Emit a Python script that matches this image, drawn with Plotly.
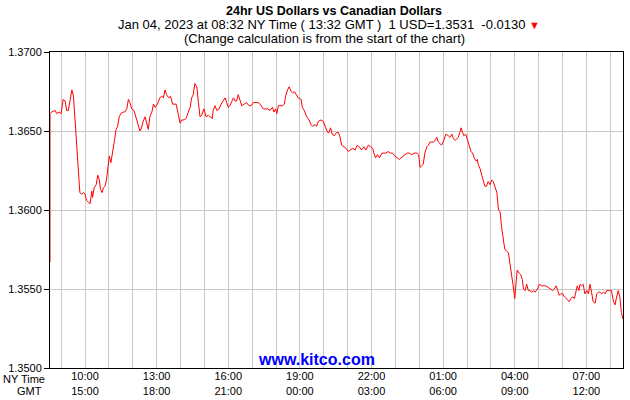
import pandas as pd
import plotly.graph_objects as go

# ---- data: minutes after the chart start (Jan 03, 2023 08:32 NY) and USD/CAD rate ----
start_time = "2023-01-03 08:32"

minutes_a = [0, 0, 4, 13, 17, 23, 28, 33, 38, 42,
             46, 50, 55, 59, 63, 67, 71, 75, 80, 84,
             88, 92, 96, 101, 105, 107, 111, 116, 120, 124,
             127, 131, 134, 138, 142, 147, 149, 153, 158, 162,
             166, 170, 174, 178, 184, 188, 193, 197, 201, 205,
             211, 216, 220, 226, 230, 234, 239, 243, 247, 251,
             256, 260, 264, 270, 276, 281, 285, 289, 293, 298,
             303, 308, 312, 317, 322, 327, 331, 337, 342, 348,
             352, 356, 360, 364, 369, 373]
values_a = [1.3567, 1.3661, 1.3662, 1.3663, 1.3661, 1.3662, 1.3661, 1.3670, 1.3669, 1.3663,
            1.3663, 1.3670, 1.3676, 1.3672, 1.3657, 1.3640, 1.3623, 1.3611, 1.3610, 1.3611,
            1.3610, 1.3606, 1.3605, 1.3604, 1.3612, 1.3608, 1.3614, 1.3616, 1.3622, 1.3619,
            1.3613, 1.3611, 1.3614, 1.3615, 1.3619, 1.3630, 1.3634, 1.3630, 1.3637, 1.3644,
            1.3651, 1.3653, 1.3659, 1.3661, 1.3662, 1.3662, 1.3664, 1.3670, 1.3668, 1.3664,
            1.3663, 1.3659, 1.3655, 1.3650, 1.3652, 1.3656, 1.3659, 1.3655, 1.3651, 1.3659,
            1.3662, 1.3667, 1.3665, 1.3667, 1.3671, 1.3672, 1.3671, 1.3676, 1.3673, 1.3671,
            1.3672, 1.3667, 1.3667, 1.3667, 1.3661, 1.3655, 1.3657, 1.3657, 1.3658, 1.3662,
            1.3665, 1.3671, 1.3673, 1.3680, 1.3678, 1.3668]

minutes_b = [377, 381, 387, 392, 398, 402, 408, 410, 415, 419,
             425, 430, 436, 440, 444, 448, 452, 457, 461, 465,
             469, 473, 477, 482, 488, 494, 500, 505, 511, 518,
             523, 528, 532, 536, 542, 547, 553, 559, 563, 567,
             570, 574, 578, 584, 589, 592, 597, 601, 606, 610,
             614, 620, 624, 631, 634, 639, 645, 651, 656, 660,
             666, 670, 674, 681, 687, 693, 698, 701, 705, 709,
             714, 720, 725, 729]
values_b = [1.3659, 1.3660, 1.3664, 1.3659, 1.3660, 1.3659, 1.3658, 1.3663, 1.3666, 1.3663,
            1.3664, 1.3667, 1.3669, 1.3671, 1.3668, 1.3665, 1.3666, 1.3669, 1.3671, 1.3669,
            1.3669, 1.3673, 1.3670, 1.3666, 1.3667, 1.3668, 1.3666, 1.3666, 1.3668, 1.3668,
            1.3668, 1.3667, 1.3665, 1.3664, 1.3664, 1.3664, 1.3663, 1.3665, 1.3662, 1.3664,
            1.3661, 1.3666, 1.3666, 1.3666, 1.3667, 1.3672, 1.3676, 1.3678, 1.3675, 1.3674,
            1.3675, 1.3673, 1.3671, 1.3670, 1.3665, 1.3663, 1.3659, 1.3657, 1.3654, 1.3653,
            1.3654, 1.3653, 1.3656, 1.3657, 1.3656, 1.3652, 1.3649, 1.3649, 1.3652, 1.3648,
            1.3647, 1.3649, 1.3649, 1.3646]

minutes_c = [733, 739, 744, 750, 754, 761, 767, 772, 777, 783,
             789, 794, 800, 806, 811, 814, 818, 823, 828, 834,
             839, 844, 850, 856, 861, 867, 873, 878, 882, 886,
             892, 898, 903, 909, 915, 922, 926, 928, 930, 934,
             938, 942, 947, 951, 955, 959, 963, 968, 972, 976,
             980, 984, 988, 993, 995, 1001, 1005, 1010, 1014, 1018,
             1022, 1026, 1030, 1033, 1037, 1040, 1045, 1050, 1054, 1058,
             1062, 1066, 1071, 1074, 1076, 1081]
values_c = [1.3641, 1.3640, 1.3639, 1.3637, 1.3638, 1.3639, 1.3638, 1.3641, 1.3640, 1.3638,
            1.3640, 1.3638, 1.3641, 1.3640, 1.3639, 1.3636, 1.3633, 1.3635, 1.3633, 1.3636,
            1.3636, 1.3636, 1.3637, 1.3636, 1.3636, 1.3634, 1.3633, 1.3632, 1.3633, 1.3634,
            1.3635, 1.3636, 1.3636, 1.3635, 1.3636, 1.3636, 1.3635, 1.3632, 1.3627, 1.3628,
            1.3629, 1.3636, 1.3640, 1.3641, 1.3643, 1.3643, 1.3643, 1.3644, 1.3646, 1.3643,
            1.3642, 1.3641, 1.3643, 1.3646, 1.3648, 1.3647, 1.3646, 1.3648, 1.3645, 1.3644,
            1.3645, 1.3646, 1.3649, 1.3652, 1.3649, 1.3647, 1.3648, 1.3644, 1.3640, 1.3637,
            1.3636, 1.3633, 1.3631, 1.3632, 1.3629, 1.3626]

minutes_d = [1085, 1089, 1093, 1097, 1101, 1106, 1110, 1114, 1118, 1123,
             1127, 1131, 1135, 1139, 1143, 1148, 1152, 1156, 1160, 1164,
             1168, 1171, 1174, 1179, 1183, 1187, 1190, 1194, 1198, 1202,
             1206, 1211, 1215, 1219, 1225, 1230, 1236, 1241, 1246, 1252,
             1258, 1263, 1267, 1272, 1276, 1280, 1284, 1288, 1293, 1297,
             1301, 1305, 1309, 1314, 1318, 1322, 1325, 1329, 1332, 1336,
             1340, 1344, 1349, 1353, 1357, 1361, 1365, 1370, 1374, 1378,
             1382, 1386, 1391, 1395, 1399, 1403, 1407, 1411, 1416, 1420,
             1424, 1428, 1432, 1436, 1440]
values_d = [1.3622, 1.3618, 1.3615, 1.3615, 1.3618, 1.3616, 1.3619, 1.3618, 1.3615, 1.3611,
            1.3600, 1.3599, 1.3589, 1.3581, 1.3575, 1.3574, 1.3573, 1.3566, 1.3560, 1.3552,
            1.3544, 1.3554, 1.3562, 1.3560, 1.3559, 1.3556, 1.3550, 1.3549, 1.3553, 1.3549,
            1.3549, 1.3548, 1.3549, 1.3548, 1.3550, 1.3553, 1.3552, 1.3552, 1.3552, 1.3551,
            1.3550, 1.3549, 1.3550, 1.3552, 1.3549, 1.3546, 1.3547, 1.3547, 1.3545, 1.3544,
            1.3543, 1.3542, 1.3544, 1.3545, 1.3544, 1.3548, 1.3552, 1.3549, 1.3553, 1.3552,
            1.3553, 1.3547, 1.3549, 1.3547, 1.3553, 1.3548, 1.3542, 1.3541, 1.3547, 1.3548,
            1.3548, 1.3547, 1.3548, 1.3547, 1.3549, 1.3549, 1.3549, 1.3549, 1.3542, 1.3540,
            1.3545, 1.3549, 1.3545, 1.3535, 1.3531]

ny_labels = ["10:00", "13:00", "16:00", "19:00", "22:00", "01:00", "04:00", "07:00"]
gmt_labels = ["15:00", "18:00", "21:00", "00:00", "03:00", "06:00", "09:00", "12:00"]

# ---- build series ----
minutes = minutes_a + minutes_b + minutes_c + minutes_d
values = values_a + values_b + values_c + values_d
n = min(len(minutes), len(values))
t0 = pd.Timestamp(start_time)
times = [t0 + pd.Timedelta(minutes=m) for m in minutes[:n]]
values = values[:n]
t_end = t0 + pd.Timedelta(hours=24)

# hourly grid, labels every 3 hours starting 10:00
hours = pd.date_range(t0.ceil("h"), t_end, freq="h")
label_map = {}
first_label = pd.Timestamp("2023-01-03 10:00")
for i, (ny, gmt) in enumerate(zip(ny_labels, gmt_labels)):
    label_map[first_label + pd.Timedelta(hours=3 * i)] = f"{ny}<br>{gmt}"
ticktext = [label_map.get(h, "") for h in hours]

FONT = "Liberation Sans, Arial, Helvetica, sans-serif"

fig = go.Figure()
fig.add_trace(go.Scatter(x=times, y=values, mode="lines",
                         line=dict(color="#ff0000", width=1),
                         hoverinfo="skip", showlegend=False))

first_val = values[1]
last_val = values[-1]
change = last_val - first_val

fig.update_layout(
    width=630, height=400,
    margin=dict(l=50, r=7, t=52, b=32, autoexpand=False),
    paper_bgcolor="white", plot_bgcolor="white",
    font=dict(family=FONT, size=11, color="black"),
    showlegend=False,
    xaxis=dict(
        type="date", range=[t0, t_end], automargin=False,
        tickmode="array", tickvals=list(hours), ticktext=ticktext,
        showgrid=True, gridcolor="#c8c8c8", gridwidth=1,
        showline=True, linecolor="black", linewidth=1, mirror=True,
        ticks="", zeroline=False, tickangle=0, ticklabelstandoff=-2,
        tickfont=dict(family=FONT, size=11, color="black"),
    ),
    yaxis=dict(
        range=[1.35, 1.37], automargin=False,
        tickmode="array", tickvals=[1.35, 1.355, 1.36, 1.365, 1.37],
        tickformat=".4f",
        showgrid=True, gridcolor="#c8c8c8", gridwidth=1,
        showline=True, linecolor="black", linewidth=1, mirror=True,
        ticks="outside", ticklen=5, tickcolor="black",
        zeroline=False,
        tickfont=dict(family=FONT, size=11, color="black"),
    ),
)

H = 316.0
W = 573.0
def py(ypix):
    return (368 - ypix) / H
def px(xpix):
    return (xpix - 50) / W

anns = [
    dict(text="<b>24hr US Dollars vs Canadian Dollars</b>", x=px(334), y=py(11),
         font=dict(size=12.5)),
    dict(text=(f"Jan 04, 2023 at 08:32 NY Time ( 13:32 GMT )  1 USD={last_val:.4f}  {change:.4f} "
               "<span style='color:#ff0000;font-size:11px'>▼</span>"),
         x=px(329), y=py(25), font=dict(size=13)),
    dict(text="(Change calculation is from the start of the chart)", x=px(324), y=py(38),
         font=dict(size=13)),
    dict(text="<b>www.kitco.com</b>", x=px(316), y=py(359),
         font=dict(size=16, color="#0000ff")),
]
for a in anns:
    fig.add_annotation(xref="paper", yref="paper", showarrow=False,
                       xanchor="center", yanchor="middle",
                       font=dict(family=FONT, size=a["font"]["size"],
                                 color=a["font"].get("color", "black")),
                       text=a["text"], x=a["x"], y=a["y"])

fig.add_annotation(xref="paper", yref="paper", showarrow=False, text="NY Time",
                   x=px(47), y=py(379), xanchor="right", yanchor="middle",
                   font=dict(family=FONT, size=11, color="black"))
fig.add_annotation(xref="paper", yref="paper", showarrow=False, text="GMT",
                   x=px(44), y=py(391), xanchor="right", yanchor="middle",
                   font=dict(family=FONT, size=11, color="black"))

fig.write_html("out.html")
